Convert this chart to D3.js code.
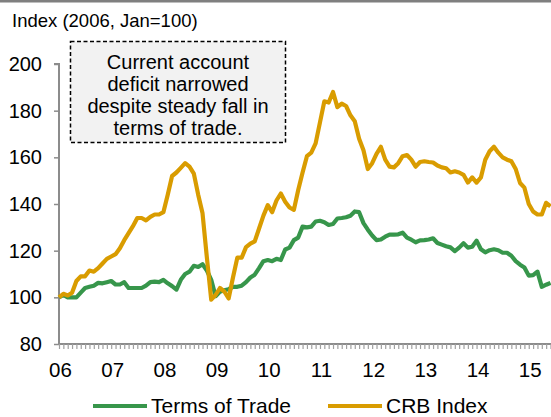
<!DOCTYPE html>
<html>
<head>
<meta charset="utf-8">
<script src="https://cdn.jsdelivr.net/npm/d3@7"></script>
<style>
  body { margin: 0; background: #fff; }
  svg { display: block; font-family: Arial, "Liberation Sans", sans-serif; }
</style>
</head>
<body>
<svg id="chart" width="551" height="417"></svg>
<script>
// monthly, Jan 2006 .. Jun 2015, index 2006 Jan = 100
var yearLabels = ['06', '07', '08', '09', '10', '11', '12', '13', '14', '15'];

var termsOfTrade = [
  100, 101, 100, 100, 100, 102, 104, 104.5, 105, 106.2, 106, 106.5,
  107, 105.5, 105.5, 106.5, 104, 104, 104, 104, 105, 106.5, 106.7, 106.5,
  107.5, 106, 104.8, 103.3, 107.5, 110, 111, 113.5, 113, 114.2, 111.5, 107.5,
  100.5, 102.4, 103, 103.5, 104.5, 104.5, 105, 106.5, 108.5, 109.7, 112.5, 115.5,
  116, 115.5, 116.5, 116, 120.5, 121.3, 124.5, 125.6, 130.3, 130, 130.3, 132.5,
  132.8, 132.2, 131, 131.4, 133.8, 134, 134.3, 135, 136.8, 136.5, 131.8, 129,
  126.5, 124.5, 124.8, 126, 126.9, 126.9, 127, 127.7, 125.6, 124.7, 123.6, 124.4,
  124.5, 124.8, 125.3, 123.3, 122.6, 121.9, 121.4, 119.8, 121.3, 123.2, 121.3, 121.7,
  124.3, 120.6, 119.3, 120.2, 120.6, 120.2, 119.1, 119.1, 117.8, 115.5, 114, 112.8,
  109.3, 109.5, 111, 104.5, 105.4, 106.2
];

var crbIndex = [
  100, 101.5, 100.8, 102, 107, 109, 109, 111.5, 111, 112.5, 114.5, 116.5,
  117.5, 118.5, 121, 124.5, 127.5, 130.5, 134, 134, 133, 134.5, 135.5, 135.5,
  136.5, 144, 152, 153.5, 155.5, 157.5, 156, 153, 144, 136, 117, 99,
  101, 104, 102.5, 99.5, 108.5, 117, 117, 121.5, 123, 124, 129.5, 135,
  139.5, 136.5, 141.5, 144.5, 141, 138.5, 137.5, 146, 153.5, 160.5, 162, 166,
  175, 184, 183.5, 188, 181.5, 183, 182, 178, 175.5, 168, 163, 155,
  157.5, 161.5, 164.5, 159, 156, 155.7, 157.5, 160.5, 161, 159, 156, 158,
  158.3, 158, 157.8, 156.5, 155.7, 155.3, 153.5, 154, 153.5, 152.5, 149.2, 151.4,
  149.2, 151.4, 159, 162.6, 164.5, 162, 160, 159, 158.3, 155, 149, 147,
  140, 136.8, 135.5, 135.5, 140.5, 139
];

var seriesNames = ['Terms of Trade', 'CRB Index'];
var seriesColors = ['#37964b', '#d99c00'];
var yTicks = [80, 100, 120, 140, 160, 180, 200];
var noteLines = ['Current account', 'deficit narrowed', 'despite steady fall in', 'terms of trade.'];

var svg = d3.select('#chart');
var axisColor = '#8c8c8c';
var fontFam = 'Arial, "Liberation Sans", sans-serif';

var x = d3.scaleLinear().domain([0, termsOfTrade.length - 1]).range([59, 550.5]);
var y = d3.scaleLinear().domain([80, 200]).range([344, 64]);

// grey rule at the very top
svg.append('rect').attr('x', 0).attr('y', 0).attr('width', 551).attr('height', 2.5).attr('fill', '#7f7f7f');

svg.append('text')
  .attr('x', 12).attr('y', 27)
  .attr('font-size', 18.5)
  .attr('fill', '#000')
  .text('Index (2006, Jan=100)');

// y axis
var yAxis = svg.append('g')
  .attr('transform', 'translate(59,0)')
  .call(d3.axisLeft(y).tickValues(yTicks).tickSize(5).tickPadding(12));
yAxis.select('.domain').attr('stroke', axisColor).attr('stroke-width', 2).attr('d', 'M-5,' + y(200) + 'H0V' + y(80));
yAxis.selectAll('.tick line').attr('stroke', axisColor).attr('stroke-width', 1.5);
yAxis.selectAll('.tick text').attr('font-size', 20).attr('font-family', fontFam).attr('fill', '#000');

// x axis: monthly minor ticks
var months = d3.range(termsOfTrade.length);
var xAxis = svg.append('g')
  .attr('transform', 'translate(0,344)')
  .call(d3.axisBottom(x).tickValues(months).tickSize(5).tickFormat(''));
xAxis.select('.domain').attr('stroke', axisColor).attr('stroke-width', 2).attr('d', 'M59,0H551');
xAxis.selectAll('.tick line').attr('stroke', '#a0a0a0').attr('stroke-width', 1.2);

// year labels
var yearAxis = svg.append('g')
  .attr('transform', 'translate(1,344)')
  .call(d3.axisBottom(x).tickValues(yearLabels.map(function(d, i) { return i * 12; }))
    .tickSize(0).tickPadding(18).tickFormat(function(d) { return yearLabels[d / 12]; }));
yearAxis.select('.domain').remove();
yearAxis.selectAll('.tick text').attr('font-size', 20.5).attr('font-family', fontFam).attr('fill', '#000');

// series lines
var line = d3.line()
  .x(function(d, i) { return x(i); })
  .y(function(d) { return y(d); });

[termsOfTrade, crbIndex].forEach(function(s, i) {
  svg.append('path')
    .datum(s)
    .attr('fill', 'none')
    .attr('stroke', seriesColors[i])
    .attr('stroke-width', 4.2)
    .attr('stroke-linejoin', 'round')
    .attr('d', line);
});

// annotation box
var note = svg.append('g');
note.append('rect')
  .attr('x', 70.5).attr('y', 41.5).attr('width', 215).attr('height', 101)
  .attr('fill', '#f2f2f2').attr('stroke', '#000').attr('stroke-width', 1.5)
  .attr('stroke-dasharray', '4,2.5');
noteLines.forEach(function(t, i) {
  note.append('text')
    .attr('x', 178).attr('y', 69 + i * 22)
    .attr('text-anchor', 'middle')
    .attr('font-size', 20)
    .attr('fill', '#000')
    .text(t);
});

// legend
var legendPos = [[93, 151], [328, 386]];
seriesNames.forEach(function(name, i) {
  var g = svg.append('g');
  g.append('line')
    .attr('x1', legendPos[i][0]).attr('x2', legendPos[i][1] - 4)
    .attr('y1', 406).attr('y2', 406)
    .attr('stroke', seriesColors[i]).attr('stroke-width', 4);
  g.append('text')
    .attr('x', legendPos[i][1]).attr('y', 412.5)
    .attr('font-size', 21)
    .attr('fill', '#000')
    .text(name);
});
</script>
</body>
</html>
